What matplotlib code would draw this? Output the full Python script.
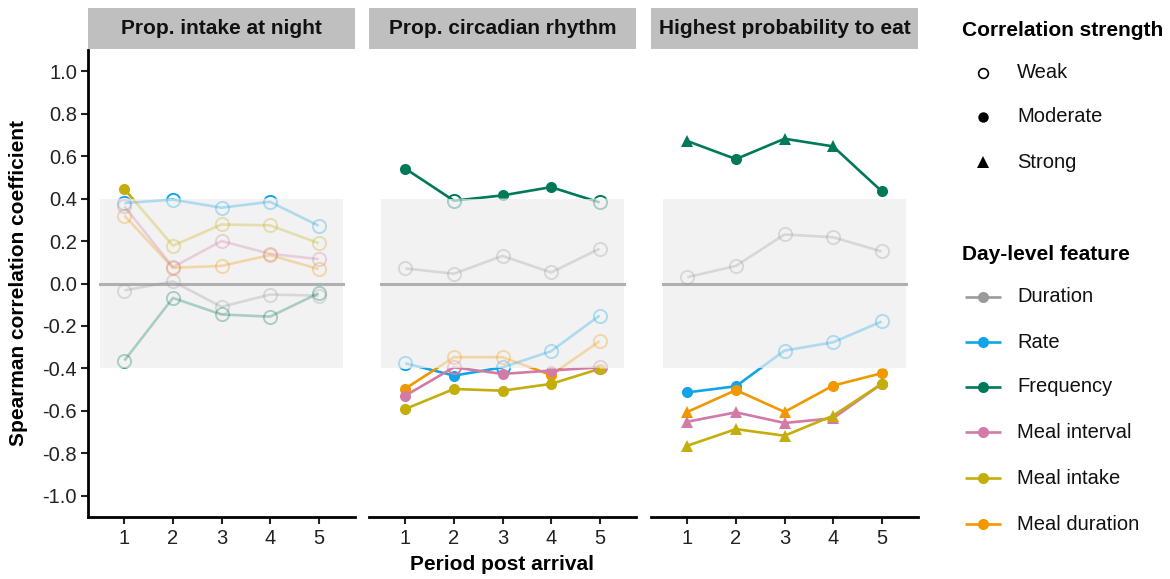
import matplotlib
matplotlib.use('Agg')
import matplotlib.pyplot as plt
from matplotlib.path import Path
from matplotlib.colors import to_rgba

plt.rcParams['font.family'] = ['Liberation Sans', 'DejaVu Sans']
plt.rcParams['axes.unicode_minus'] = False

# ---------------- data ----------------
periods = [1, 2, 3, 4, 5]
panel_titles = ['Prop. intake at night', 'Prop. circadian rhythm', 'Highest probability to eat']
features = ['Duration', 'Rate', 'Frequency', 'Meal interval', 'Meal intake', 'Meal duration']
feature_colors = ['#9a9a9a', '#12a4e8', '#00795a', '#d17ba6', '#c4ae0b', '#f09800']
y_ticks = [-1.0, -0.8, -0.6, -0.4, -0.2, 0.0, 0.2, 0.4, 0.6, 0.8, 1.0]
strength_labels = ['Weak', 'Moderate', 'Strong']

# one list per panel (night, circadian, highest probability)
duration_r = [[-0.033, 0.010, -0.110, -0.052, -0.057],
              [0.071, 0.046, 0.130, 0.052, 0.164],
              [0.030, 0.083, 0.231, 0.218, 0.151]]
rate_r = [[0.379, 0.395, 0.357, 0.385, 0.272],
          [-0.376, -0.434, -0.395, -0.319, -0.151],
          [-0.513, -0.484, -0.316, -0.277, -0.179]]
frequency_r = [[-0.363, -0.068, -0.146, -0.156, -0.046],
               [0.541, 0.390, 0.415, 0.454, 0.382],
               [0.671, 0.586, 0.682, 0.646, 0.435]]
meal_interval_r = [[0.363, 0.077, 0.200, 0.140, 0.115],
                   [-0.528, -0.395, -0.426, -0.410, -0.395],
                   [-0.651, -0.607, -0.657, -0.635, -0.473]]
meal_intake_r = [[0.445, 0.178, 0.278, 0.274, 0.190],
                 [-0.591, -0.497, -0.505, -0.473, -0.402],
                 [-0.764, -0.686, -0.717, -0.623, -0.473]]
meal_duration_r = [[0.320, 0.074, 0.083, 0.134, 0.068],
                   [-0.495, -0.347, -0.347, -0.431, -0.272],
                   [-0.605, -0.502, -0.605, -0.481, -0.423]]

series = {
    'Duration': duration_r,
    'Rate': rate_r,
    'Frequency': frequency_r,
    'Meal interval': meal_interval_r,
    'Meal intake': meal_intake_r,
    'Meal duration': meal_duration_r,
}
draw_order = ['Duration', 'Rate', 'Frequency', 'Meal duration', 'Meal interval', 'Meal intake']
color_of = dict(zip(features, feature_colors))

WEAK, STRONG = 0.4, 0.6

# ---------------- layout ----------------
W, H = 1170, 579
fig = plt.figure(figsize=(W / 100, H / 100), dpi=100)

def fx(px):
    return px / W

def fy(py):
    return 1 - py / H

panel_lefts = [88, 369, 651]
panel_w = 267
top, bottom = 50, 517
strip_top, strip_bot = 8, 49

band_path = Path([(-100, -WEAK), (100, -WEAK), (100, WEAK), (-100, WEAK), (-100, -WEAK)],
                 [Path.MOVETO, Path.LINETO, Path.LINETO, Path.LINETO, Path.CLOSEPOLY])
outer_path = Path([(-100, WEAK), (100, WEAK), (100, 100), (-100, 100), (-100, WEAK),
                   (-100, -100), (100, -100), (100, -WEAK), (-100, -WEAK), (-100, -100)],
                  [Path.MOVETO, Path.LINETO, Path.LINETO, Path.LINETO, Path.CLOSEPOLY,
                   Path.MOVETO, Path.LINETO, Path.LINETO, Path.LINETO, Path.CLOSEPOLY])

tick_fs = 14.5
title_fs = 15
lw = 1.9

for i, left in enumerate(panel_lefts):
    ax = fig.add_axes([fx(left), fy(bottom), fx(panel_w), (bottom - top) / H])
    ax.set_xlim(0.25, 5.75)
    ax.set_ylim(-1.1, 1.1)
    ax.set_facecolor('white')
    ax.axhspan(-WEAK, WEAK, xmin=(0.5 - 0.25) / 5.5, xmax=(5.5 - 0.25) / 5.5,
               color='#f2f2f2', lw=0, zorder=0)
    ax.axhline(0, xmin=(0.5 - 0.25) / 5.5, xmax=(5.5 - 0.25) / 5.5,
               color='#b0b0b0', lw=2.2, zorder=1)

    for layer, clip in (('faded', band_path), ('full', outer_path)):
        for feat in draw_order:
            vals = series[feat][i]
            base = color_of[feat]
            col = to_rgba(base, 0.3) if layer == 'faded' else to_rgba(base, 1.0)
            artists = ax.plot(periods, vals, color=col, lw=lw, zorder=2,
                              solid_capstyle='butt')
            for x, v in zip(periods, vals):
                a = abs(v)
                if a < WEAK:
                    artists += ax.plot([x], [v], marker='o', ms=9.5, mfc='none',
                                       mec=col, mew=1.4, ls='none', zorder=3)
                elif a < STRONG:
                    artists += ax.plot([x], [v], marker='o', ms=8, mfc=col,
                                       mec=col, mew=0, ls='none', zorder=3)
                else:
                    artists += ax.plot([x], [v], marker='^', ms=9, mfc=col,
                                       mec=col, mew=0, ls='none', zorder=3)
            for art in artists:
                art.set_clip_path(clip, ax.transData)

    for s in ('top', 'right'):
        ax.spines[s].set_visible(False)
    ax.spines['bottom'].set_linewidth(2.0)
    ax.spines['left'].set_linewidth(2.0)
    ax.set_xticks(periods)
    ax.set_xticklabels([str(p) for p in periods])
    ax.tick_params(axis='x', length=5, width=1.5, labelsize=tick_fs,
                   colors='#222222', pad=4)
    if i == 0:
        ax.set_yticks(y_ticks)
        ax.set_yticklabels([f'{t:.1f}' for t in y_ticks])
        ax.tick_params(axis='y', length=5, width=1.5, labelsize=tick_fs,
                       colors='#222222', pad=3)
    else:
        ax.spines['left'].set_visible(False)
        ax.set_yticks([])

    # strip
    sax = fig.add_axes([fx(left), fy(strip_bot), fx(panel_w), (strip_bot - strip_top) / H])
    sax.set_facecolor('#bfbfbf')
    sax.set_xticks([])
    sax.set_yticks([])
    for s in sax.spines.values():
        s.set_visible(False)
    sax.text(0.5, 0.5, panel_titles[i], ha='center', va='center',
             fontsize=title_fs, fontweight='bold', color='#111111',
             transform=sax.transAxes)

# axis titles
fig.text(fx(19), fy(283), 'Spearman correlation coefficient', rotation=90,
         ha='center', va='center', fontsize=title_fs, fontweight='bold')
fig.text(fx(502.5), fy(564), 'Period post arrival', ha='center', va='center',
         fontsize=title_fs, fontweight='bold')

# ---------------- legends ----------------
lax = fig.add_axes([fx(930), 0, fx(240), 1])
lax.set_xlim(930, 1170)
lax.set_ylim(H, 0)
lax.axis('off')

lax.text(962, 30, 'Correlation strength', ha='left', va='center',
         fontsize=title_fs, fontweight='bold')
strength_y = [73, 117, 162]
strength_markers = [dict(marker='o', mfc='white', mec='black', mew=1.2, ms=7),
                    dict(marker='o', mfc='black', mec='black', mew=0, ms=7.5),
                    dict(marker='^', mfc='black', mec='black', mew=0, ms=8)]
for lab, y, mk in zip(strength_labels, strength_y, strength_markers):
    lax.plot([983], [y], ls='none', **mk)
    lax.text(1017, y, lab, ha='left', va='center', fontsize=tick_fs, color='#111111')

lax.text(962, 254, 'Day-level feature', ha='left', va='center',
         fontsize=title_fs, fontweight='bold')
feature_y = [297, 342, 387, 432, 478, 524]
for feat, y in zip(features, feature_y):
    c = color_of[feat]
    lax.plot([965, 1001], [y, y], color=c, lw=lw, solid_capstyle='butt')
    lax.plot([983], [y], marker='o', ms=8, mfc=c, mec=c, mew=0, ls='none')
    lax.text(1017, y, feat, ha='left', va='center', fontsize=tick_fs, color='#111111')

fig.savefig('out.png', dpi=100)
